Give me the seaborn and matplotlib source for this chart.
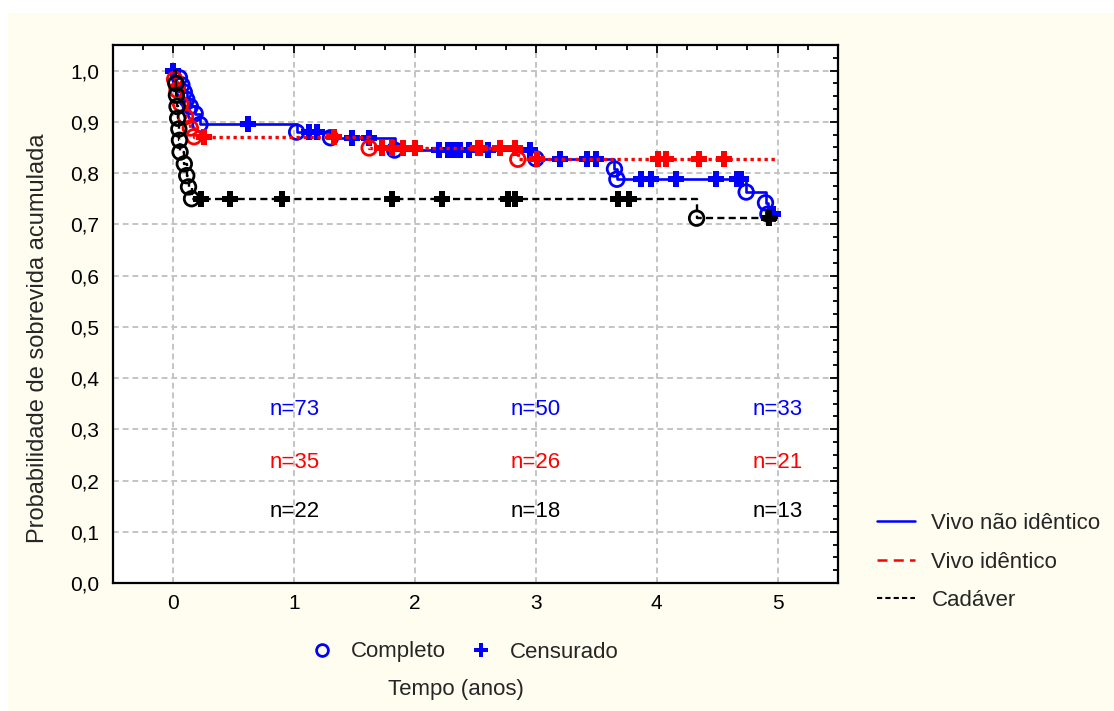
import numpy as np
import pandas as pd
import matplotlib
matplotlib.use("Agg")
import matplotlib.pyplot as plt
from matplotlib.lines import Line2D
from matplotlib.patches import Rectangle
from matplotlib.ticker import MultipleLocator, FuncFormatter
import seaborn as sns

# groups and colours
groups = ["Vivo não idêntico", "Vivo idêntico", "Cadáver"]
colors = ["#0000ff", "#ff0000", "#000000"]

# Vivo não idêntico: death times (circles) and survival after each death
blue_event_t = [0.05, 0.07, 0.09, 0.11, 0.14, 0.18, 0.22, 1.02, 1.30, 1.83,
                3.00, 3.65, 3.67, 4.74, 4.90, 4.92]
blue_event_s = [0.986, 0.972, 0.958, 0.944, 0.930, 0.916, 0.895, 0.880, 0.869, 0.845,
                0.828, 0.808, 0.788, 0.763, 0.742, 0.720]
blue_cens_t = [0.0, 0.62, 1.12, 1.19, 1.48, 1.62, 2.20, 2.27, 2.32, 2.37, 2.45, 2.60,
               2.95, 3.20, 3.42, 3.50, 3.87, 3.95, 4.16, 4.49, 4.66, 4.70, 4.96]
blue_end = 4.96

# Vivo idêntico
red_event_t = [0.01, 0.03, 0.06, 0.10, 0.14, 0.17, 1.62, 2.85]
red_event_s = [0.983, 0.962, 0.935, 0.910, 0.888, 0.871, 0.849, 0.827]
red_cens_t = [0.25, 1.33, 1.73, 1.81, 1.90, 2.00, 2.52, 2.54, 2.70, 2.83, 3.01,
              4.01, 4.08, 4.35, 4.56]
red_end = 5.0

# Cadáver
blk_event_t = [0.02, 0.025, 0.03, 0.035, 0.045, 0.05, 0.055, 0.09, 0.11, 0.125, 0.15, 4.33]
blk_event_s = [0.975, 0.952, 0.930, 0.907, 0.886, 0.864, 0.841, 0.818, 0.795, 0.773, 0.750, 0.712]
blk_cens_t = [0.23, 0.47, 0.90, 1.81, 2.22, 2.77, 2.83, 3.68, 3.77, 4.93]
blk_end = 5.0

# number at risk labels
risk_times = [1, 3, 5]
risk_blue = [73, 50, 33]
risk_red = [35, 26, 21]
risk_blk = [22, 18, 13]


def surv_at(t, ev_t, ev_s):
    # value of the step function at time t
    idx = np.searchsorted(ev_t, t, side="right") - 1
    return np.where(idx < 0, 1.0, np.asarray(ev_s)[np.clip(idx, 0, None)])


def km_frames(ev_t, ev_s, cens_t, end):
    curve = pd.DataFrame({"t": [0.0] + ev_t + [end],
                          "s": [1.0] + ev_s + [ev_s[-1]]})
    events = pd.DataFrame({"t": ev_t, "s": ev_s})
    cens = pd.DataFrame({"t": cens_t, "s": surv_at(np.array(cens_t), ev_t, ev_s)})
    return curve, events, cens


sns.set_style("white")
plt.rcParams["font.family"] = ["Liberation Sans", "DejaVu Sans"]

fig = plt.figure(figsize=(11.14, 7.11), dpi=100)
fig.patch.set_facecolor("white")
fig.patches.append(Rectangle((8 / 1114, 0), 1, 1 - 13 / 711, transform=fig.transFigure,
                             facecolor="#fffdf0", edgecolor="none", zorder=-10))
ax = fig.add_axes([113 / 1114, 1 - 583 / 711, 725 / 1114, 538 / 711])
ax.set_facecolor("white")

styles = [
    dict(ls="-", lw=1.9, z=3),
    dict(ls=(0, (1, 1.1)), lw=2.4, z=4),
    dict(ls=(0, (3, 1.8)), lw=1.7, z=5),
]
data = [
    (blue_event_t, blue_event_s, blue_cens_t, blue_end),
    (red_event_t, red_event_s, red_cens_t, red_end),
    (blk_event_t, blk_event_s, blk_cens_t, blk_end),
]

for (ev_t, ev_s, cens_t, end), col, st in zip(data, colors, styles):
    curve, events, cens = km_frames(ev_t, ev_s, cens_t, end)
    sns.lineplot(data=curve, x="t", y="s", ax=ax, color=col, linestyle=st["ls"],
                 lw=st["lw"], drawstyle="steps-post", estimator=None, sort=False,
                 zorder=st["z"])
    sns.scatterplot(data=events, x="t", y="s", ax=ax, marker="o", s=110,
                    facecolor="none", edgecolor=col, linewidth=2.0, zorder=st["z"] + 0.5)
    sns.scatterplot(data=cens, x="t", y="s", ax=ax, marker="P", s=125,
                    color=col, linewidth=0, zorder=st["z"] + 0.5)

# n at risk
for lab_t, nb, nr, nk in zip(risk_times, risk_blue, risk_red, risk_blk):
    ax.text(lab_t, 0.338, f"n={nb}", color=colors[0], ha="center", va="center", fontsize=16)
    ax.text(lab_t, 0.236, f"n={nr}", color=colors[1], ha="center", va="center", fontsize=16)
    ax.text(lab_t, 0.140, f"n={nk}", color=colors[2], ha="center", va="center", fontsize=16)

ax.set_xlim(-0.5, 5.5)
ax.set_ylim(0, 1.05)
ax.xaxis.set_major_locator(MultipleLocator(1))
ax.xaxis.set_minor_locator(MultipleLocator(0.25))
ax.yaxis.set_major_locator(MultipleLocator(0.1))
ax.yaxis.set_minor_locator(MultipleLocator(0.025))
ax.yaxis.set_major_formatter(FuncFormatter(lambda v, p: f"{v:.1f}".replace(".", ",")))
ax.grid(True, which="major", color="#c4c4c4", linestyle=(0, (3, 2)), lw=1.4)
ax.set_axisbelow(True)
ax.tick_params(which="both", direction="in", top=True, right=True, width=1.3,
               colors="black", labelsize=15)
ax.tick_params(which="major", length=6)
ax.tick_params(which="minor", length=3.5)
ax.tick_params(axis="x", pad=8)
ax.tick_params(axis="y", pad=10)
for sp in ax.spines.values():
    sp.set_color("black")
    sp.set_linewidth(1.6)
ax.set_xlabel("")
ax.set_ylabel("")

fig.text(38 / 1114, 1 - 338 / 711, "Probabilidade de sobrevida acumulada",
         rotation=90, ha="center", va="center", fontsize=17)
fig.text(456 / 1114, 1 - 690 / 711, "Tempo (anos)", ha="center", va="center", fontsize=16)

# group legend on the right
group_handles = [
    Line2D([], [], color=colors[0], lw=1.8, ls="-"),
    Line2D([], [], color=colors[1], lw=1.8, ls=(0, (4, 2.5))),
    Line2D([], [], color=colors[2], lw=1.5, ls=(0, (2.5, 1.5))),
]
fig.legend(group_handles, groups, loc="center left",
           bbox_to_anchor=(877 / 1114, 1 - 562 / 711), frameon=False, fontsize=16,
           handlelength=1.7, handletextpad=0.75, labelspacing=0.78, borderpad=0,
           borderaxespad=0)

# marker legend below the axis
marker_handles = [
    Line2D([], [], color=colors[0], marker="o", ls="", markersize=8.5,
           markerfacecolor="none", markeredgewidth=2.0),
    Line2D([], [], color=colors[0], marker="P", ls="", markersize=10,
           markeredgewidth=0),
]
fig.legend(marker_handles, ["Completo", "Censurado"], loc="center", ncol=2,
           bbox_to_anchor=(465 / 1114, 1 - 652 / 711), frameon=False, fontsize=16,
           handlelength=1.0, handletextpad=0.8, columnspacing=1.1, borderpad=0,
           borderaxespad=0)

fig.savefig("out.png", dpi=100, facecolor=fig.get_facecolor())
